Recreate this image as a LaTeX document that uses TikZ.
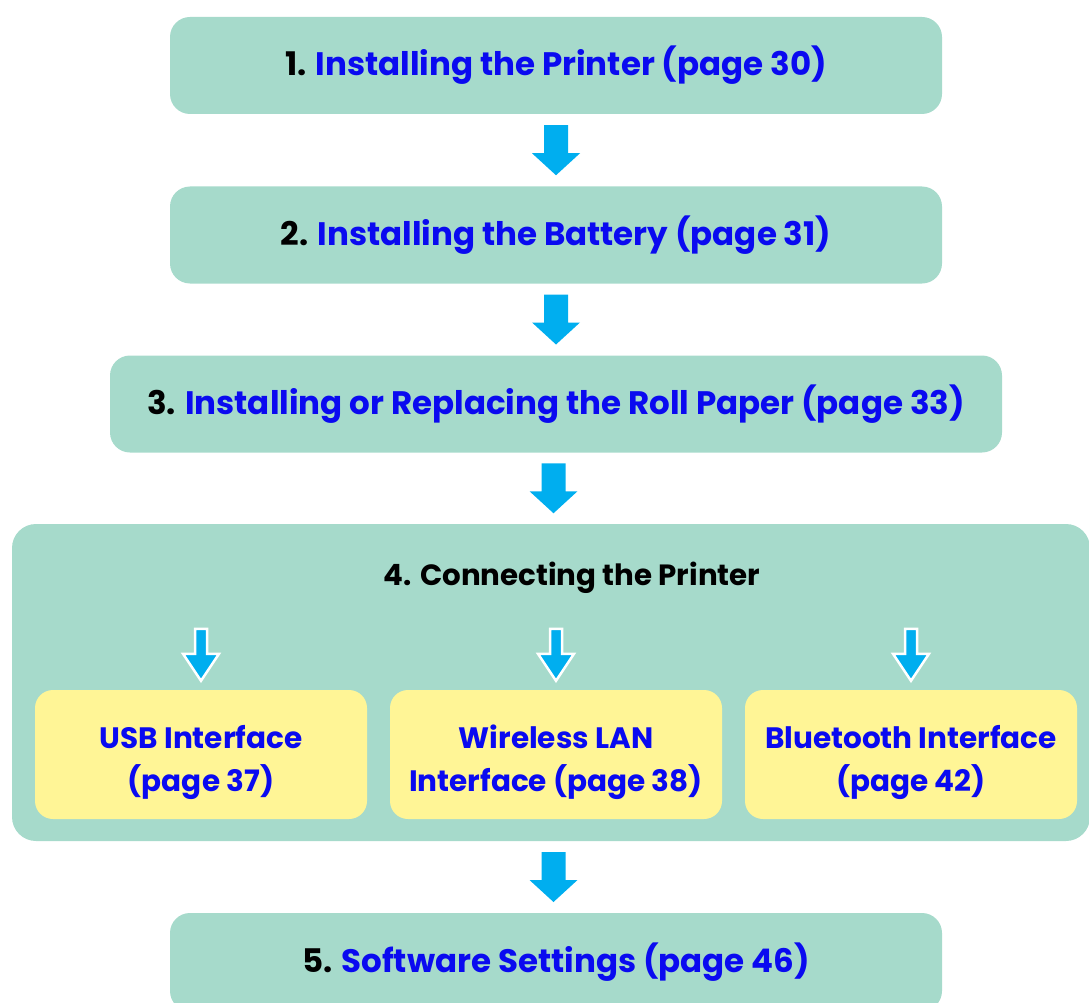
\documentclass[tikz,border=0pt]{standalone}
\usepackage{fontspec}
\setmainfont{Poppins}
\usetikzlibrary{positioning,calc}

\definecolor{stepgreen}{RGB}{166,218,203}
\definecolor{subyellow}{RGB}{255,245,150}
\definecolor{linkblue}{RGB}{10,10,240}
\definecolor{arrowblue}{RGB}{0,174,239}

\tikzset{
  stepbox/.style={fill=stepgreen, rounded corners=20pt, minimum height=97pt, font=\bfseries\fontsize{32.5}{38}\selectfont},
  subbox/.style={fill=subyellow, rounded corners=18pt, minimum width=332pt, minimum height=129pt},
  subtext/.style={align=center, text=linkblue, font=\bfseries\fontsize{29.5}{43}\selectfont},
  bigarrow/.pic={\fill[arrowblue] (-12,-25)--(-12,3)--(-24,3)--(0,25)--(24,3)--(12,3)--(12,-25)--cycle;},
  smallarrow/.pic={\fill[arrowblue, draw=white, line width=2.5pt, line join=miter] (-6,-26)--(-6,-1)--(-18,-1)--(0,26)--(18,-1)--(6,-1)--(6,-26)--cycle;}
}

\begin{document}
\begin{tikzpicture}[x=1pt,y=-1pt]
  \useasboundingbox (0,0) rectangle (1089,1003);

  % main steps
  \node[stepbox, minimum width=772pt] (inst) at (556,65.5) {1. \textcolor{linkblue}{Installing the Printer (page 30)}};
  \node[stepbox, minimum width=772pt] (batt) at (556,235) {2. \textcolor{linkblue}{Installing the Battery (page 31)}};
  \node[stepbox, minimum width=892pt] (roll) at (556,404) {3. \textcolor{linkblue}{Installing or Replacing the Roll Paper (page 33)}};
  \node[stepbox, minimum width=1078pt, minimum height=317pt, rounded corners=24pt] (conn) at (551,682.5) {};
  \node[font=\bfseries\fontsize{29.3}{34}\selectfont] (conntxt) at (572,578) {4. Connecting the Printer};
  \node[stepbox, minimum width=772pt, minimum height=98pt] (soft) at (556,962) {5. \textcolor{linkblue}{Software Settings (page 46)}};

  % interfaces
  \node[subbox] (usb) at (201,754.5) {};
  \node[subbox] (wlan) at (556,754.5) {};
  \node[subbox] (bt) at (911,754.5) {};
  \node[subtext] (usbtxt) at ($(usb)+(0,8)$) {USB Interface\\(page 37)};
  \node[subtext] (wlantxt) at ($(wlan)+(0,8)$) {Wireless LAN\\Interface (page 38)};
  \node[subtext] (bttxt) at ($(bt)+(0,8)$) {Bluetooth Interface\\(page 42)};

  % arrows
  \pic at ($(inst.south)!0.5!(batt.north)$) {bigarrow};
  \pic at ($(batt.south)!0.5!(roll.north)$) {bigarrow};
  \pic at ($(roll.south)!0.5!(conn.north)$) {bigarrow};
  \pic at ($(conn.south)!0.5!(soft.north)$) {bigarrow};
  \foreach \n in {usb,wlan,bt}
    \pic at ($(\n.north)+(0,-35)$) {smallarrow};
\end{tikzpicture}
\end{document}
